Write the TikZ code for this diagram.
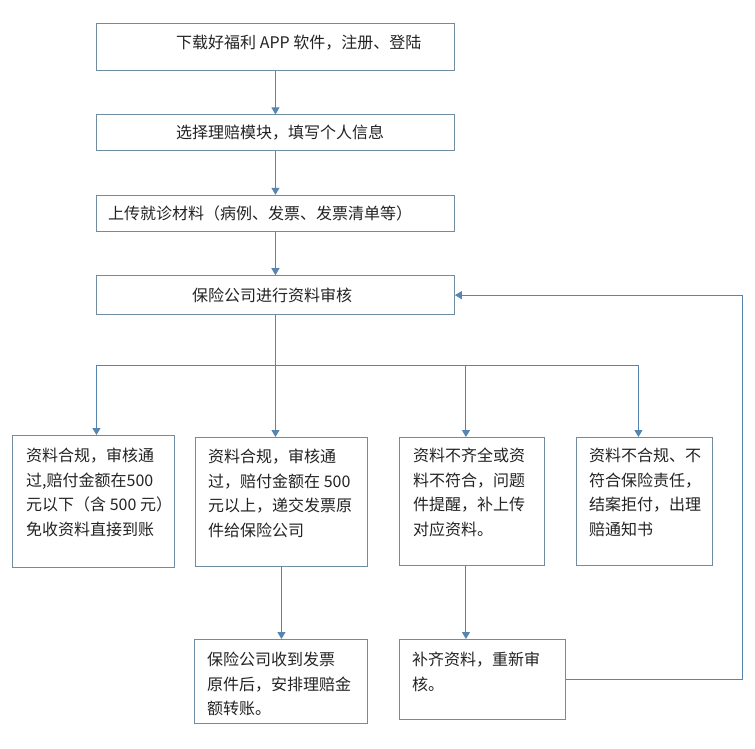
\documentclass[tikz,border=0pt]{standalone}
\usepackage{fontspec}
\setmainfont{Noto Sans CJK SC}
\usepackage{xcolor}
\usepackage{tikz}
\usetikzlibrary{arrows.meta, positioning, calc}
\definecolor{FlowBlue}{RGB}{86,134,176}
\definecolor{BoxRule}{RGB}{112,140,160}
\definecolor{TextInk}{RGB}{35,35,35}

\begin{document}
\begin{tikzpicture}[
  x=1pt, y=-1pt,
  node distance=43.5pt,
  every node/.style={font={\fontsize{16}{24.5}\selectfont}, text=TextInk},
  box/.style={draw=BoxRule, line width=0.9pt, minimum width=358pt, inner sep=0pt},
  txt/.style={inner sep=0pt, align=left},
  line/.style={draw=FlowBlue, line width=1pt},
  arrow/.style={line, -{Triangle[width=8pt, length=7pt]}}
]
\path[use as bounding box, fill=white] (0,0) rectangle (755,748);

\node[box, minimum height=47pt, anchor=north west] (download) at (96,23) {};
\node[box, minimum height=36pt, below=of download] (module) {};
\node[box, minimum height=36pt, below=of module] (upload) {};
\node[box, minimum height=39pt, below=of upload] (audit) {};
\node[txt, right=80pt of download.west, yshift=4.5pt] (downloadText) {下载好福利 APP 软件，注册、登陆};
\node[txt, right=80pt of module.west] (moduleText) {选择理赔模块，填写个人信息};
\node[txt, right=12pt of upload.west] (uploadText) {上传就诊材料（病例、发票、发票清单等）};
\node[txt, right=96pt of audit.west] (auditText) {保险公司进行资料审核};

\node[box, minimum width=162pt, minimum height=132pt, anchor=north west] (okSmall) at (12,435) {};
\node[box, minimum width=172pt, minimum height=129pt, anchor=north west] (okLarge) at (195,437) {};
\node[box, minimum width=145pt, minimum height=128pt, anchor=north west] (lacking) at (399,437) {};
\node[box, minimum width=136pt, minimum height=128pt, anchor=north west] (refused) at (576,437) {};
\node[box, minimum width=173pt, minimum height=84pt, anchor=north west] (transfer) at (194,639) {};
\node[box, minimum width=166pt, minimum height=80pt, anchor=north west] (resubmit) at (399,639) {};

\node[txt, below right=13pt and 14pt of okSmall.north west] (okSmallText)
  {资料合规，审核通\\过,赔付金额在500\\元以下（含 500 元）\\免收资料直接到账};
\node[txt, below right=12pt and 13pt of okLarge.north west] (okLargeText)
  {资料合规，审核通\\过，赔付金额在 500\\元以上，递交发票原\\件给保险公司};
\node[txt, below right=11pt and 14pt of lacking.north west] (lackingText)
  {资料不齐全或资\\料不符合，问题\\件提醒，补上传\\对应资料。};
\node[txt, below right=11pt and 13pt of refused.north west] (refusedText)
  {资料不合规、不\\符合保险责任，\\结案拒付，出理\\赔通知书};
\node[txt, below right=13pt and 13pt of transfer.north west] (transferText)
  {保险公司收到发票\\原件后，安排理赔金\\额转账。};
\node[txt, below right=13pt and 13pt of resubmit.north west] (resubmitText)
  {补齐资料，重新审\\核。};

% main column
\draw[arrow] (download) -- (module);
\draw[arrow] (module) -- (upload);
\draw[arrow] (upload) -- (audit);

% branches after the review
\coordinate[below=50pt of audit.south] (split);
\coordinate (okSmallIn) at ($(okSmall.north)+(3,0)$);
\coordinate (lackingIn) at ($(lacking.north)+(-6,0)$);
\coordinate (refusedIn) at ($(refused.north)+(-6,0)$);
\draw[line] (audit) -- (split);
\draw[line] (split -| okSmallIn) -- (split -| refusedIn);
\draw[arrow] (split -| okSmallIn) -- (okSmallIn);
\draw[arrow] (split) -- (split |- okLarge.north);
\draw[arrow] (split -| lackingIn) -- (lackingIn);
\draw[arrow] (split -| refusedIn) -- (refusedIn);
\draw[arrow] (okLarge.south) -- (okLarge.south |- transfer.north);
\draw[arrow] (lackingIn |- lacking.south) -- (lackingIn |- resubmit.north);

% back to the review
\draw[arrow] (resubmit.east) -- ++(177pt,0) |- (audit.east);
\end{tikzpicture}
\end{document}
